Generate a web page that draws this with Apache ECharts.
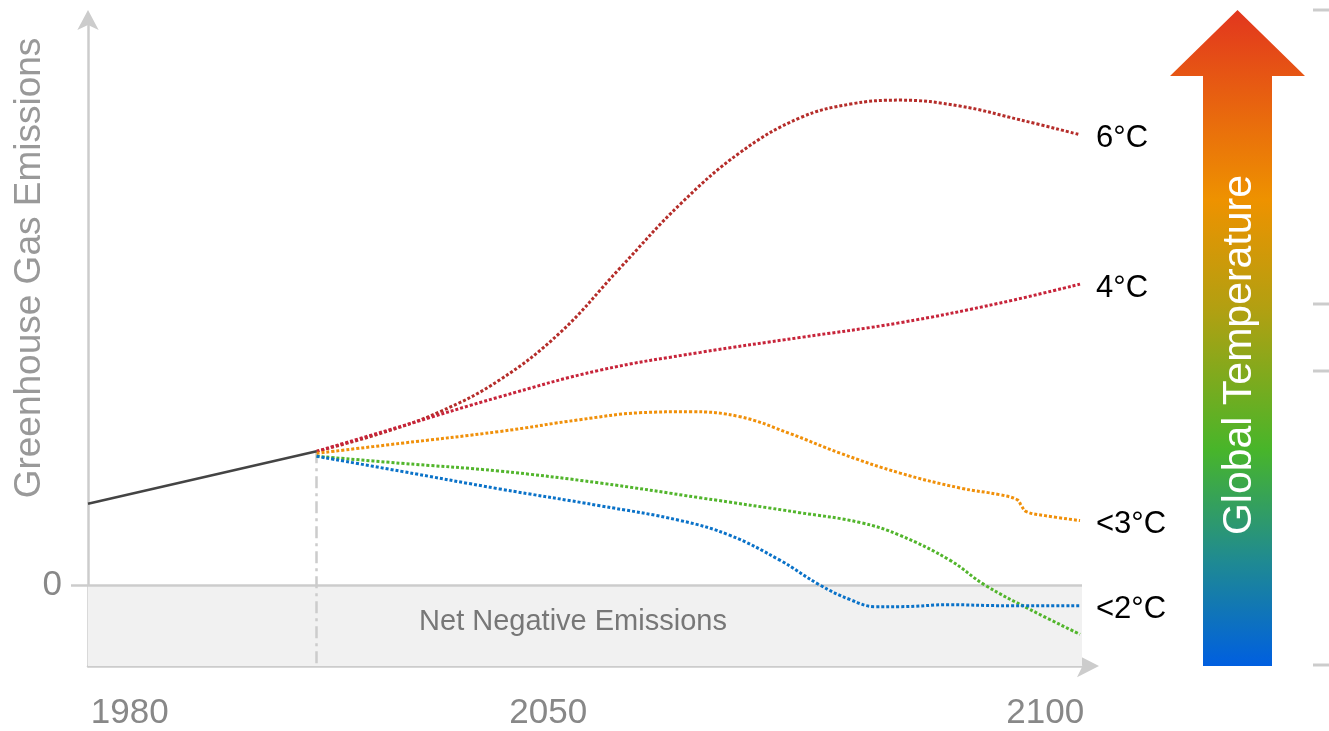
<!DOCTYPE html>
<html>
<head>
<meta charset="utf-8">
<script src="https://cdn.jsdelivr.net/npm/echarts@6/dist/echarts.min.js"></script>
<style>html,body{margin:0;padding:0;background:#fff;}#c{width:1329px;height:731px;}</style>
</head>
<body>
<div id="c"></div>
<script>
// x: normalized time index (0 = left edge of axis, 100 = right edge); y: emissions (arbitrary units, 0 = net zero)
const histX = [0, 23];
const histY = [16.4, 27];

const s6X = [23, 29.4, 35.4, 41.4, 47.5, 53.5, 59.6, 65.6, 71.6, 76.7, 81.7, 87.7, 93.8, 99.8];
const s6Y = [27, 30.6, 35, 41.4, 51, 64, 77, 87.4, 94.4, 97.2, 98, 96.8, 94, 91];

const s4X = [23, 31.4, 41.4, 51.5, 61.6, 71.6, 81.7, 91.8, 99.8];
const s4Y = [27, 32, 38, 43.4, 47, 50, 53, 57, 60.8];

const s3X = [23, 31.4, 41.4, 49.5, 55.5, 60.6, 65.6, 70.6, 75.7, 81.7, 87.7, 91.8, 93.5, 93.9, 94.4, 96.3, 99.8];
const s3Y = [26.6, 28.6, 31, 33.4, 34.8, 35, 34, 30.6, 26.6, 22.6, 19.6, 18.2, 17.2, 16, 14.8, 14, 13];

const sGX = [23, 31.4, 41.4, 51.5, 61.6, 71.6, 77.7, 81.7, 86.7, 90.2, 94.8, 99.8];
const sGY = [26, 24.6, 23, 20.6, 17.6, 14.6, 12.6, 10, 5, 0, -5, -10];

const s2X = [23, 31.4, 41.4, 51.5, 59.6, 64.6, 69.6, 73.6, 76.7, 79.2, 81.7, 86.7, 91.8, 99.8];
const s2Y = [26, 23, 19.4, 16, 13, 10, 5, 0, -3, -4.4, -4.4, -4, -4.2, -4.2];

const seriesLabels = ['6°C', '4°C', '<3°C', '', '<2°C'];
const seriesColors = ['#b52d2a', '#c7243a', '#f0900a', '#52b52c', '#0a72c8'];

const tickLabels = ['1980', '2050', '2100'];
const tickValues = [4.2, 46.3, 96.3];
const todayX = 23;
const yMin = -16.4, yMax = 114.6, xMin = 0, xMax = 100;

const zip = (xs, ys) => xs.map((x, i) => [x, ys[i]]);
const FONT = 'Liberation Sans, Arial';

const chart = echarts.init(document.getElementById('c'));
const dotted = (name, xs, ys, idx) => ({
  type: 'line', name: name, data: zip(xs, ys), smooth: 0.4, showSymbol: false, z: 5,
  lineStyle: { color: seriesColors[idx], width: 3, type: [3, 2] },
  endLabel: {
    show: !!seriesLabels[idx], formatter: seriesLabels[idx], color: '#000',
    fontSize: 31, fontFamily: FONT, distance: 16, offset: [0, 4]
  }
});

chart.setOption({
  animation: false,
  grid: { left: 88, right: 247, top: 18, bottom: 64 },
  xAxis: {
    type: 'value', min: xMin, max: xMax,
    axisLine: { show: true, onZero: false, lineStyle: { color: '#cccccc', width: 2.5 }, symbol: ['none', 'arrow'], symbolSize: [17, 22], symbolOffset: [0, 17] },
    axisTick: { show: false }, splitLine: { show: false },
    axisLabel: {
      customValues: tickValues,
      formatter: (v) => { const i = tickValues.indexOf(v); return i >= 0 ? tickLabels[i] : ''; },
      fontSize: 35, color: '#888888', margin: 30, fontFamily: FONT
    }
  },
  yAxis: {
    type: 'value', min: yMin, max: yMax,
    axisLine: { show: true, onZero: false, lineStyle: { color: '#cccccc', width: 2.5 }, symbol: ['none', 'arrow'], symbolSize: [16, 20], symbolOffset: [0, 8] },
    axisTick: { show: true, customValues: [0], length: 17, lineStyle: { color: '#cccccc', width: 2.5 } },
    splitLine: { show: false },
    axisLabel: { customValues: [0], fontSize: 35, color: '#888888', margin: 26, fontFamily: FONT }
  },
  series: [
    {
      type: 'line', name: 'history', data: zip(histX, histY), showSymbol: false, z: 6,
      lineStyle: { color: '#444444', width: 2.5 },
      markArea: {
        silent: true,
        itemStyle: { color: '#f1f1f1' },
        label: { show: true, position: 'inside', color: '#777777', fontSize: 29, offset: [-12, -3], fontFamily: FONT },
        data: [[{ name: 'Net Negative Emissions', coord: [xMin, 0] }, { coord: [xMax, yMin] }]]
      },
      markLine: {
        silent: true, symbol: 'none', label: { show: false },
        data: [
          [{ coord: [xMin, 0], lineStyle: { color: '#cccccc', width: 2.5, type: 'solid' } }, { coord: [xMax, 0] }],
          [{ coord: [todayX, histY[1]], lineStyle: { color: '#cccccc', width: 2.5, type: [12, 5, 3, 5] } }, { coord: [todayX, yMin] }]
        ]
      }
    },
    dotted('6°C', s6X, s6Y, 0),
    dotted('4°C', s4X, s4Y, 1),
    dotted('<3°C', s3X, s3Y, 2),
    dotted('green', sGX, sGY, 3),
    dotted('<2°C', s2X, s2Y, 4)
  ],
  graphic: [
    {
      type: 'text', x: 30, y: 268, rotation: Math.PI / 2,
      style: { text: 'Greenhouse Gas Emissions', fill: '#999999', fontSize: 37, fontFamily: FONT, align: 'center', verticalAlign: 'middle' }
    },
    {
      type: 'polygon',
      shape: { points: [[1170, 76], [1237.5, 10], [1305, 76], [1272, 76], [1272, 666], [1203, 666], [1203, 76]] },
      style: {
        fill: new echarts.graphic.LinearGradient(0, 0, 0, 1, [
          { offset: 0, color: '#e2361e' },
          { offset: 0.29, color: '#ee9200' },
          { offset: 0.46, color: '#b0a012' },
          { offset: 0.67, color: '#48b52a' },
          { offset: 0.84, color: '#1f8a92' },
          { offset: 1, color: '#005fe0' }
        ])
      }
    },
    {
      type: 'text', x: 1240, y: 355, rotation: Math.PI / 2,
      style: { text: 'Global Temperature', fill: '#ffffff', fontSize: 41, fontFamily: FONT, align: 'center', verticalAlign: 'middle' }
    },
    { type: 'line', shape: { x1: 1313, y1: 10, x2: 1329, y2: 10 }, style: { stroke: '#cccccc', lineWidth: 3 } },
    { type: 'line', shape: { x1: 1313, y1: 304, x2: 1329, y2: 304 }, style: { stroke: '#cccccc', lineWidth: 3 } },
    { type: 'line', shape: { x1: 1313, y1: 371, x2: 1329, y2: 371 }, style: { stroke: '#cccccc', lineWidth: 3 } },
    { type: 'line', shape: { x1: 1313, y1: 665, x2: 1329, y2: 665 }, style: { stroke: '#cccccc', lineWidth: 3 } }
  ]
});
</script>
</body>
</html>
